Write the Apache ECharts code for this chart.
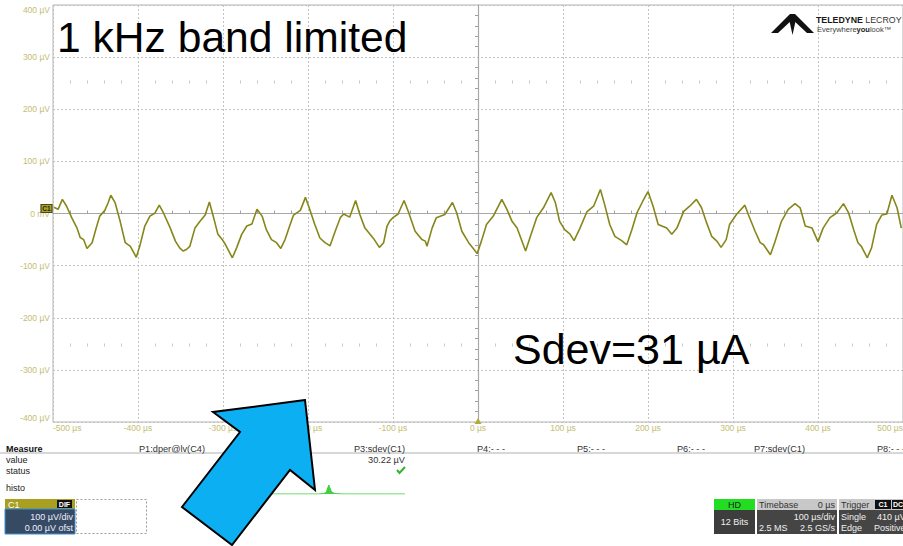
<!DOCTYPE html>
<html><head><meta charset="utf-8">
<script src="https://cdn.jsdelivr.net/npm/echarts@6/dist/echarts.min.js"></script>
<style>html,body{margin:0;padding:0;background:#fff}#c{width:903px;height:546px}</style>
</head><body><div id="c"></div>
<script>
// ---- waveform (time in µs, voltage in µV) ----
const timeUs = [-499,-494,-489,-484,-478,-472,-468,-464,-460,-454,-449,-445,-439,-435,-432,-427,-421,-415,-409,-402,-398,-392,-386,-380,-375,-370,-362,-356,-351,-347,-343,-339,-333,-327,-321,-316,-311,-306,-300,-297,-289,-284,-278,-272,-266,-260,-254,-249,-243,-237,-232,-227,-221,-217,-209,-203,-198,-192,-186,-180,-174,-168,-162,-158,-151,-144,-139,-133,-122,-116,-111,-107,-104,-100,-94,-87,-82,-74,-66,-62,-60,-54,-49,-39,-30,-25,-19,-11,-6,-1,4,10,18,28,34,40,46,51,56,61,69,77,86,91,96,102,108,113,120,128,136,144,149,155,161,169,175,181,187,194,200,206,212,222,228,234,242,249,257,263,269,275,281,286,292,296,304,314,318,326,332,336,344,349,357,365,373,379,385,393,400,406,414,422,430,436,442,447,451,458,463,469,475,481,487,493,498];
const voltageUv = [12,8,27,14,-8,-27,-46,-50,-67,-56,-27,-5,6,21,35,21,-15,-56,-63,-84,-63,-24,-5,1,16,1,-28,-53,-66,-72,-69,-63,-28,-15,-3,22,-8,-40,-52,-60,-85,-66,-40,-24,-20,8,-5,-31,-50,-56,-67,-50,-21,-3,6,31,8,-21,-47,-56,-62,-34,-8,-1,-7,25,-2,-28,-50,-65,-56,-24,-15,-8,-1,25,4,-34,-50,-53,-63,-28,-8,-2,21,1,-34,-56,-66,-77,-53,-21,-5,27,8,-15,-28,-50,-72,-47,-8,11,40,21,-15,-31,-39,-52,-28,3,14,46,17,-21,-44,-52,-60,-31,1,24,42,14,-21,-28,-40,-28,4,14,27,11,-18,-44,-53,-65,-50,-21,-2,16,-2,-34,-56,-60,-79,-56,-15,8,19,11,-24,-28,-54,-28,-8,1,19,1,-31,-56,-63,-85,-66,-21,-3,-1,35,11,-28];

// ---- histogram inset (counts per bin) ----
const histoCounts = [0,0,0,0,0,0,0,0,0,0,0,0,0,0,0,0,0,0,0,0,0,0,0,0,0,0,0,0,0.2,0.5,1.5,9,2.5,0.8,0.4,0.2,0.1,0,0,0,0,0,0,0,0,0,0,0,0,0,0,0,0,0,0,0,0.1,0,0,0,0,0];

// ---- axis settings ----
const timeMin = -500, timeMax = 500, timeStep = 100;
const voltMin = -400, voltMax = 400, voltStep = 100;

// ---- panel texts ----
const measureLabels = ['P1:dper@lv(C4)','P2:- - -','P3:sdev(C1)','P4:- - -','P5:- - -','P6:- - -','P7:sdev(C1)','P8:- - -'];
const titleText = '1 kHz band limited';
const noteText = 'Sdev=31 µA';

const FONT = '"Liberation Sans", Arial, sans-serif';
const LABEL_COLOR = '#c4bd74';

function txt(text, x, y, o) {
  o = o || {};
  const st = {
    text: text, x: x, y: y,
    fill: o.color || '#222',
    fontSize: o.size || 9, fontFamily: FONT, fontWeight: o.weight || 'normal',
    align: o.align || 'left', textAlign: o.align || 'left',
    verticalAlign: 'middle', textVerticalAlign: 'middle'
  };
  if (o.rich) st.rich = o.rich;
  return { type: 'text', z: o.z || 20, silent: true, style: st };
}
function box(x, y, w, h, fill, stroke, extra) {
  return Object.assign({ type: 'rect', z: 15, silent: true, shape: { x: x, y: y, width: w, height: h },
    style: { fill: fill, stroke: stroke || null, lineWidth: 1 } }, extra || {});
}

const gfx = [];
gfx.push(txt(titleText, 57, 37, { size: 42.6, color: '#000' }));
gfx.push(txt(noteText, 513, 349, { size: 43, color: '#000' }));
// logo
gfx.push({ type: 'polygon', z: 20, silent: true, shape: { points: [[771,33],[790,14],[793,14],[793,19],[778,33]] }, style: { fill: '#111' } });
gfx.push({ type: 'polygon', z: 20, silent: true, shape: { points: [[814,33],[795,14],[792,14],[792,19],[807,33]] }, style: { fill: '#111' } });
gfx.push({ type: 'polygon', z: 20, silent: true, shape: { points: [[789,19],[796,19],[792.5,35]] }, style: { fill: '#111' } });
gfx.push(txt('{b|TELEDYNE} {r|LECROY}', 816, 20, { size: 8.8, rich: { b: { fontWeight: 'bold', fontSize: 8.8, fill: '#1a1a1a', fontFamily: FONT }, r: { fontSize: 8.8, fill: '#333', fontFamily: FONT } } }));
gfx.push(txt('{a|Everywhere}{b|you}{a|look™}', 817, 29, { size: 7.5, rich: { a: { fontSize: 7.5, fill: '#444', fontFamily: FONT }, b: { fontSize: 7.5, fontWeight: 'bold', fill: '#222', fontFamily: FONT } } }));

// measure panel
gfx.push(txt('Measure', 6, 449, { weight: 'bold', color: '#111' }));
gfx.push({ type: 'line', z: 15, silent: true, shape: { x1: 0, y1: 453, x2: 903, y2: 453 }, style: { stroke: '#b0b0b0', lineWidth: 1 } });
gfx.push(txt('value', 6, 460));
gfx.push(txt('status', 6, 471));
gfx.push(txt('histo', 6, 488));
measureLabels.forEach(function (s, i) { gfx.push(txt(s, 205 + 100 * i, 449, { align: 'right', color: '#333', size: 9.2 })); });
gfx.push(txt('30.22 µV', 405, 460, { align: 'right', color: '#333', size: 9.2 }));
gfx.push({ type: 'polyline', z: 20, silent: true, shape: { points: [[397,470],[399.5,473],[405,467]] }, style: { stroke: '#2fb52f', lineWidth: 2, fill: null } });

// C1 channel box
gfx.push(box(5, 499, 70, 10, '#a9a022'));
gfx.push(txt('C1', 8, 504.5, { color: '#fff', size: 9 }));
gfx.push(box(57, 500, 15, 8, '#111'));
gfx.push(txt('DIF', 64.5, 504.3, { color: '#fff', size: 7, align: 'center', weight: 'bold' }));
gfx.push(box(5, 509, 70, 25, '#364b63', '#3b8fd6'));
gfx.push(txt('100 µV/div', 73, 517, { align: 'right', color: '#eef', size: 9 }));
gfx.push(txt('0.00 µV ofst', 73, 528, { align: 'right', color: '#eef', size: 9 }));
gfx.push(box(76.5, 499.5, 70, 34, null, '#999', { style: { fill: null, stroke: '#9a9a9a', lineWidth: 1, lineDash: [2, 2] } }));

// HD / timebase / trigger boxes
gfx.push(box(714, 499, 41, 11, '#22dd22'));
gfx.push(txt('HD', 734.5, 504.5, { align: 'center', color: '#222', size: 9 }));
gfx.push(box(714, 510, 41, 24, '#3d3d3d'));
gfx.push(txt('12 Bits', 734.5, 522, { align: 'center', color: '#f0f0f0', size: 9 }));
gfx.push(box(757, 499, 80, 11, '#c8c8c8'));
gfx.push(txt('Timebase', 759, 504.5, { color: '#333', size: 9 }));
gfx.push(txt('0 µs', 835, 504.5, { align: 'right', color: '#333', size: 9 }));
gfx.push(box(757, 510, 80, 24, '#454545'));
gfx.push(txt('100 µs/div', 835, 516.5, { align: 'right', color: '#f0f0f0', size: 9 }));
gfx.push(txt('2.5 MS', 759, 527.5, { color: '#f0f0f0', size: 9 }));
gfx.push(txt('2.5 GS/s', 835, 527.5, { align: 'right', color: '#f0f0f0', size: 9 }));
gfx.push(box(839, 499, 64, 11, '#c8c8c8'));
gfx.push(txt('Trigger', 841, 504.5, { color: '#333', size: 9 }));
gfx.push(box(875, 500, 16, 9, '#111'));
gfx.push(txt('C1', 883, 504.5, { align: 'center', color: '#fff', size: 7, weight: 'bold' }));
gfx.push(box(892, 500, 12, 9, '#111'));
gfx.push(txt('DC', 898, 504.5, { align: 'center', color: '#fff', size: 7, weight: 'bold' }));
gfx.push(box(839, 510, 64, 24, '#454545'));
gfx.push(txt('Single', 841, 516.5, { color: '#f0f0f0', size: 9 }));
gfx.push(txt('410 µV', 877, 516.5, { color: '#f0f0f0', size: 9 }));
gfx.push(txt('Edge', 841, 527.5, { color: '#f0f0f0', size: 9 }));
gfx.push(txt('Positive', 874, 527.5, { color: '#f0f0f0', size: 9 }));

// big blue arrow annotation
gfx.push({ type: 'polygon', z: 100, silent: true,
  shape: { points: [[305,400],[213,412],[240,432],[182,507],[232,545],[290,470],[315,490]] },
  style: { fill: '#0cb0f2', stroke: '#000', lineWidth: 2, lineJoin: 'miter' } });

const dotted = { color: '#c2c2c2', width: 1, type: [2, 2] };
const hiddenLabel = { show: false };

const option = {
  animation: false,
  backgroundColor: '#ffffff',
  grid: [
    { left: 53, right: 0, top: 5, bottom: 124, show: true, borderColor: '#b4b4b4', borderWidth: 1, outerBoundsMode: 'none', containLabel: false },
    { left: 250, width: 155, top: 484, height: 10, outerBoundsMode: 'none' }
  ],
  xAxis: [
    { gridIndex: 0, type: 'value', min: timeMin, max: timeMax, interval: timeStep, position: 'bottom',
      axisLine: { show: false, onZero: false }, axisTick: { show: false },
      axisLabel: { color: LABEL_COLOR, fontSize: 8.5, fontFamily: FONT, margin: 1,
        alignMinLabel: 'left', alignMaxLabel: 'right', formatter: function (v) { return v + ' µs'; } },
      splitLine: { show: true, lineStyle: dotted } },
    { gridIndex: 0, type: 'value', min: timeMin, max: timeMax, interval: timeStep, position: 'bottom',
      axisLine: { show: true, onZero: true, onZeroAxisIndex: 0, lineStyle: { color: '#a8a8a8', width: 1.2 } },
      axisTick: { show: false, inside: true }, minorTick: { show: true, splitNumber: 5, length: 3, lineStyle: { color: '#a0a0a0' } },
      axisLabel: hiddenLabel, splitLine: { show: false } },
    { gridIndex: 0, type: 'value', min: timeMin, max: timeMax, interval: timeStep, position: 'top', offset: -78.5,
      axisLine: { show: false, onZero: false }, axisTick: { show: false },
      minorTick: { show: true, splitNumber: 5, length: 3, lineStyle: { color: '#c8c8c8' } },
      axisLabel: hiddenLabel, splitLine: { show: false } },
    { gridIndex: 0, type: 'value', min: timeMin, max: timeMax, interval: timeStep, position: 'bottom', offset: -78.5,
      axisLine: { show: false, onZero: false }, axisTick: { show: false },
      minorTick: { show: true, splitNumber: 5, length: 3, lineStyle: { color: '#c8c8c8' } },
      axisLabel: hiddenLabel, splitLine: { show: false } },
    { gridIndex: 1, type: 'value', min: 0, max: histoCounts.length - 1, show: false }
  ],
  yAxis: [
    { gridIndex: 0, type: 'value', min: voltMin, max: voltMax, interval: voltStep, position: 'left',
      axisLine: { show: false, onZero: false }, axisTick: { show: false },
      axisLabel: { color: LABEL_COLOR, fontSize: 8.5, fontFamily: FONT, margin: 3,
        verticalAlignMinLabel: 'bottom', verticalAlignMaxLabel: 'top',
        formatter: function (v) { return v === 0 ? '0 mV' : v + ' µV'; } },
      splitLine: { show: true, lineStyle: dotted } },
    { gridIndex: 0, type: 'value', min: voltMin, max: voltMax, interval: voltStep, position: 'left',
      axisLine: { show: true, onZero: true, onZeroAxisIndex: 0, lineStyle: { color: '#a8a8a8', width: 1.2 } },
      axisTick: { show: false }, minorTick: { show: true, splitNumber: 5, length: 3, lineStyle: { color: '#a0a0a0' } },
      axisLabel: hiddenLabel, splitLine: { show: false } },
    { gridIndex: 1, type: 'value', min: 0, max: 10, show: false }
  ],
  series: [
    { type: 'line', xAxisIndex: 0, yAxisIndex: 0, symbol: 'none', z: 5,
      data: timeUs.map(function (t, i) { return [t, voltageUv[i]]; }),
      lineStyle: { color: '#86861a', width: 1.6 },
      markPoint: { silent: true, animation: false,
        data: [
          { coord: [timeMin, 0], symbol: 'rect', symbolSize: [11, 8], symbolOffset: [-6.5, -5],
            itemStyle: { color: '#aca326', borderColor: '#4a480c', borderWidth: 1 },
            label: { show: true, formatter: 'C1', color: '#222', fontSize: 6.5, fontWeight: 'bold', position: 'inside' } },
          { coord: [0, voltMin], symbol: 'triangle', symbolSize: [7, 6], symbolOffset: [0, -1],
            itemStyle: { color: '#b2aa3a' }, label: { show: false } }
        ] } },
    { type: 'line', xAxisIndex: 4, yAxisIndex: 2, symbol: 'none', z: 5,
      data: histoCounts.map(function (c, i) { return [i, c]; }),
      lineStyle: { color: '#3fcf3f', width: 1 }, areaStyle: { color: '#3fcf3f', opacity: 1 } }
  ],
  graphic: { elements: gfx }
};

const chart = echarts.init(document.getElementById('c'), null, { renderer: 'svg' });
chart.setOption(option);
</script>
</body></html>
